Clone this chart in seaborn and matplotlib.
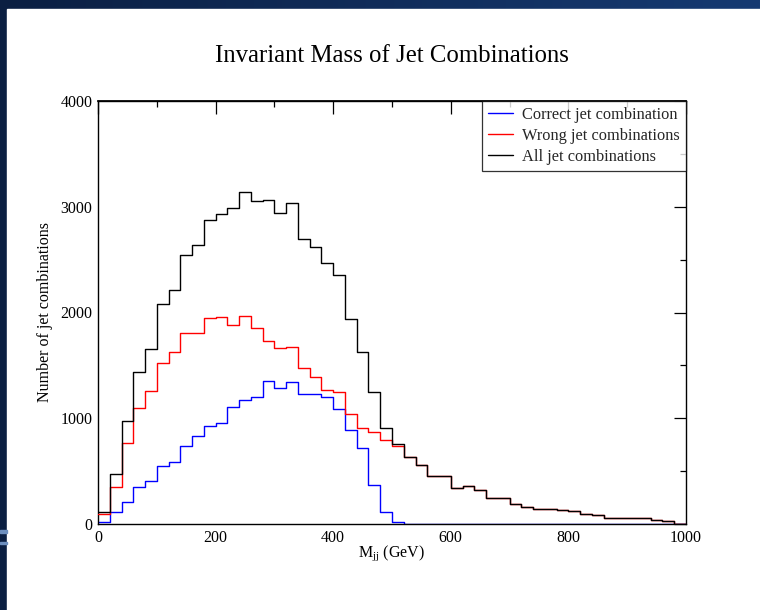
import numpy as np
import pandas as pd
import matplotlib
matplotlib.use('Agg')
import matplotlib.pyplot as plt
import seaborn as sns
from matplotlib.patches import Rectangle
from matplotlib.ticker import MultipleLocator

# 20 GeV bins from 0 to 1000
bin_edges = np.arange(0, 1001, 20)
bin_centers = bin_edges[:-1] + 10

correct_counts = [20, 110, 208, 346, 406, 551, 582, 737, 831, 925,
                  954, 1105, 1168, 1200, 1348, 1288, 1346, 1225, 1225, 1198,
                  1092, 890, 720, 372, 110, 15, 0, 0, 0, 0,
                  0, 0, 0, 0, 0, 0, 0, 0, 0, 0,
                  0, 0, 0, 0, 0, 0, 0, 0, 0, 0]
wrong_counts = [98, 353, 768, 1096, 1254, 1521, 1628, 1807, 1807, 1945,
                1961, 1879, 1964, 1852, 1735, 1660, 1670, 1472, 1391, 1270,
                1252, 1036, 905, 872, 797, 737, 636, 554, 450, 458,
                345, 363, 326, 249, 249, 186, 165, 140, 140, 130,
                120, 99, 88, 54, 54, 54, 54, 36, 25, 0]
all_counts = [112, 469, 973, 1439, 1657, 2079, 2216, 2540, 2635, 2874,
              2927, 2984, 3135, 3053, 3066, 2937, 3031, 2698, 2622, 2472,
              2352, 1937, 1628, 1245, 905, 752, 636, 554, 450, 458,
              345, 363, 326, 249, 249, 186, 165, 140, 140, 130,
              120, 99, 88, 54, 54, 54, 54, 36, 25, 0]

series = [
    ('Correct jet combination', correct_counts, '#0000ff'),
    ('Wrong jet combinations', wrong_counts, '#ff0000'),
    ('All jet combinations', all_counts, '#000000'),
]

sns.set_theme(style='white')
plt.rcParams['font.family'] = ['Liberation Serif', 'DejaVu Serif']
plt.rcParams['mathtext.fontset'] = 'custom'
plt.rcParams['mathtext.rm'] = 'Liberation Serif'

fig = plt.figure(figsize=(7.6, 6.1), dpi=100)
fig.patch.set_facecolor('#0d2449')

# slide background: dark gradient band on top, white page
bg = fig.add_axes([0, 0, 1, 1], zorder=-10)
bg.imshow(np.linspace(0, 1, 256)[None, :], aspect='auto', extent=[0, 760, 0, 610],
          cmap=matplotlib.colors.LinearSegmentedColormap.from_list('bg', ['#0b1f42', '#163a72']))
bg.add_patch(Rectangle((7, 0), 753, 601, color='white'))
bg.add_patch(Rectangle((0, 77), 7, 3, color='#6d8fbf'))
bg.add_patch(Rectangle((0, 66), 7, 2, color='#6d8fbf'))
bg.set_xlim(0, 760)
bg.set_ylim(0, 610)
bg.axis('off')

ax = fig.add_axes([98 / 760, 1 - 524 / 610, 588 / 760, 423 / 610])
ax.set_facecolor('white')

for z, (label, counts, color) in enumerate(series):
    df = pd.DataFrame({'mass': bin_centers, 'count': counts})
    sns.histplot(data=df, x='mass', weights='count', binwidth=20, binrange=(0, 1000),
                 element='step', fill=False, color=color, linewidth=1.0,
                 label=label, ax=ax)
    ax.lines[-1].set_zorder(2 + z)

ax.set_xlim(0, 1000)
ax.set_ylim(0, 4000)
ax.xaxis.set_major_locator(MultipleLocator(200))
ax.xaxis.set_minor_locator(MultipleLocator(100))
ax.yaxis.set_major_locator(MultipleLocator(1000))
ax.yaxis.set_minor_locator(MultipleLocator(500))
ax.tick_params(which='both', direction='in', top=False, right=True, color='black',
               labelsize=11.5, labelcolor='black', width=0.9)
ax.tick_params(axis='x', which='major', length=9, pad=4)
ax.tick_params(axis='x', which='minor', length=9)
ax.tick_params(axis='y', which='major', length=9, pad=4)
ax.tick_params(axis='y', which='minor', length=4.5)
for sp in ax.spines.values():
    sp.set_color('black')
    sp.set_linewidth(1.0)

# top axis: long ticks at 200s, short ones at 100s
top = ax.secondary_xaxis('top')
top.xaxis.set_major_locator(MultipleLocator(200))
top.xaxis.set_minor_locator(MultipleLocator(100))
top.tick_params(which='both', direction='in', color='black', width=0.9, labeltop=False)
top.tick_params(which='major', length=9)
top.tick_params(which='minor', length=4.5)
top.spines['top'].set_color('black')

ax.set_title('Invariant Mass of Jet Combinations', fontsize=17.8, pad=28, color='black')
ax.set_xlabel(r'$\mathregular{M_{jj}}$ (GeV)', fontsize=11.5, color='black')
ax.set_ylabel('Number of jet combinations', fontsize=11.5, color='black')
ax.yaxis.set_label_coords(-0.077, 0.5)
ax.xaxis.set_label_coords(0.5, -0.045)

leg = ax.legend(loc='upper right', borderaxespad=0, fontsize=11.8, frameon=True,
                fancybox=False, edgecolor='black', handlelength=1.5,
                handletextpad=0.55, labelspacing=0.3, borderpad=0.38)
leg.get_frame().set_linewidth(0.9)
leg.set_zorder(10)

fig.savefig('out.png', dpi=100, facecolor=fig.get_facecolor())
